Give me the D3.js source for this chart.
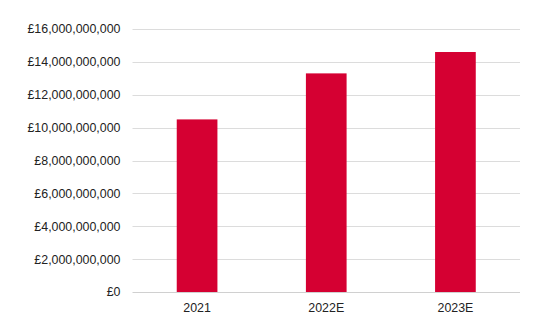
<!DOCTYPE html>
<html>
<head>
<meta charset="utf-8">
<script src="https://cdn.jsdelivr.net/npm/d3@7"></script>
<style>
  html, body { margin: 0; padding: 0; background: #fff; }
  svg text { font-family: "Liberation Sans", Arial, sans-serif; }
</style>
</head>
<body>
<svg id="chart" width="550" height="330"></svg>
<script>
const categories = ["2021", "2022E", "2023E"];
const values = [10500000000, 13300000000, 14600000000];
const yTicks = [0, 2e9, 4e9, 6e9, 8e9, 10e9, 12e9, 14e9, 16e9];

const margin = { top: 29, right: 30, bottom: 38, left: 132.5 };
const width = 550, height = 330;
const svg = d3.select("#chart");

const x = d3.scaleBand()
  .domain(categories)
  .range([margin.left, width - margin.right])
  .padding(0);

const y = d3.scaleLinear()
  .domain([0, 16e9])
  .range([height - margin.bottom, margin.top]);

const fmt = v => "£" + d3.format(",")(v);

// gridlines
svg.append("g")
  .selectAll("line")
  .data(yTicks)
  .join("line")
  .attr("x1", margin.left)
  .attr("x2", width - margin.right)
  .attr("y1", d => Math.round(y(d)) + 0.5)
  .attr("y2", d => Math.round(y(d)) + 0.5)
  .attr("stroke", d => d === 0 ? "#d0d0d0" : "#dcdcdc")
  .attr("stroke-width", 1);

// y axis labels
const yAxis = d3.axisLeft(y).tickValues(yTicks).tickFormat(fmt).tickSize(0).tickPadding(12);
const gy = svg.append("g")
  .attr("transform", `translate(${margin.left},0)`)
  .call(yAxis);
gy.select(".domain").remove();
gy.selectAll("text").attr("fill", "#222").style("font-size", "12.4px");

// bars
const barFrac = 0.315;
svg.append("g")
  .selectAll("rect")
  .data(categories.map((c, i) => ({ c, v: values[i] })))
  .join("rect")
  .attr("x", d => x(d.c) + x.bandwidth() * (1 - barFrac) / 2)
  .attr("width", x.bandwidth() * barFrac)
  .attr("y", d => y(d.v))
  .attr("height", d => y(0) - y(d.v))
  .attr("fill", "#d50032");

// x axis labels
const xAxis = d3.axisBottom(x).tickSize(0).tickPadding(11);
const gx = svg.append("g")
  .attr("transform", `translate(0,${y(0)})`)
  .call(xAxis);
gx.select(".domain").remove();
gx.selectAll("text").attr("fill", "#222").style("font-size", "12.4px");
</script>
</body>
</html>
